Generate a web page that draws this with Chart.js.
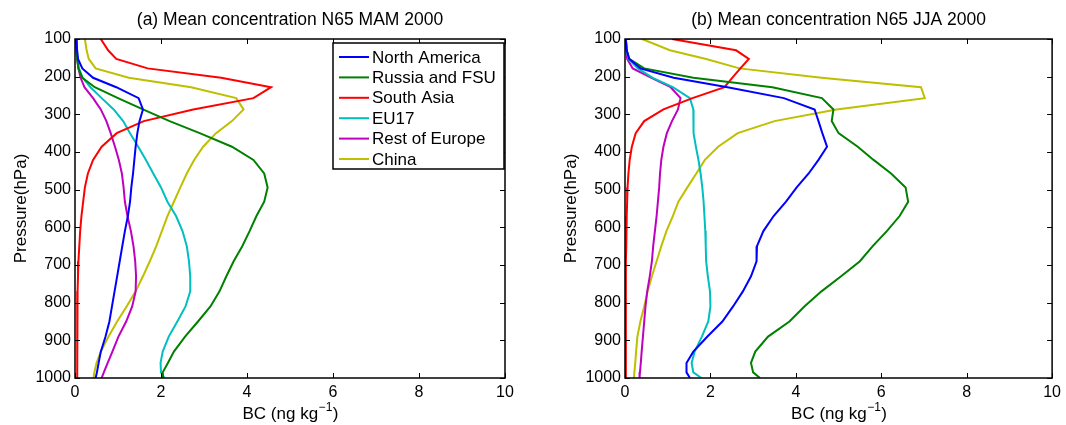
<!DOCTYPE html>
<html>
<head>
<meta charset="utf-8">
<script src="https://cdn.jsdelivr.net/npm/chart.js@4/dist/chart.umd.min.js"></script>
<style>
  html, body { margin: 0; padding: 0; background: #fff; }
  #wrap { display: flex; width: 1066px; height: 425px; }
  .panel { width: 533px; height: 425px; }
  canvas { display: block; }
</style>
</head>
<body>
<div id="wrap">
  <div class="panel"><canvas id="mam" width="533" height="425"></canvas></div>
  <div class="panel"><canvas id="jja" width="533" height="425"></canvas></div>
</div>
<script>
// Model pressure levels (hPa), top of profile to surface
const pressureLevels = [100, 130, 153, 178, 203, 228, 257, 287, 318, 350, 386, 421, 457, 494,
                        532, 570, 610, 650, 690, 730, 770, 810, 850, 890, 930, 960, 985, 1000];

const regionNames  = ['North America', 'Russia and FSU', 'South Asia', 'EU17', 'Rest of Europe', 'China'];
const regionColors = ['#0000ff', '#008000', '#ff0000', '#00bfbf', '#bf00bf', '#bfbf00'];

const xTickValues = [0, 2, 4, 6, 8, 10];
const yTickValues = [100, 200, 300, 400, 500, 600, 700, 800, 900, 1000];

// BC concentration (ng/kg), spring (MAM 2000), north of 65N
const mamNorthAmerica = [0.03, 0.05, 0.07, 0.17, 0.42, 0.96, 1.48, 1.58, 1.50, 1.45, 1.41, 1.38, 1.35, 1.31,
                         1.28, 1.23, 1.16, 1.10, 1.04, 0.98, 0.92, 0.86, 0.80, 0.71, 0.60, 0.55, 0.51, 0.48];
const mamRussiaFSU    = [0.03, 0.04, 0.05, 0.08, 0.17, 0.46, 1.00, 1.58, 2.20, 2.90, 3.65, 4.15, 4.40, 4.48,
                         4.40, 4.22, 4.06, 3.89, 3.69, 3.52, 3.36, 3.15, 2.86, 2.56, 2.30, 2.16, 2.04, 2.05];
const mamSouthAsia    = [0.60, 0.77, 0.96, 1.69, 3.40, 4.56, 4.15, 2.75, 1.60, 0.97, 0.62, 0.42, 0.30, 0.23,
                         0.19, 0.15, 0.12, 0.10, 0.08, 0.07, 0.06, 0.06, 0.05, 0.05, 0.05, 0.05, 0.05, 0.05];
const mamEU17         = [0.03, 0.04, 0.06, 0.09, 0.18, 0.36, 0.62, 0.90, 1.12, 1.28, 1.47, 1.65, 1.82, 2.00,
                         2.15, 2.35, 2.50, 2.60, 2.65, 2.68, 2.68, 2.57, 2.38, 2.18, 2.04, 1.99, 2.00, 2.08];
const mamRestEurope   = [0.02, 0.03, 0.05, 0.08, 0.13, 0.22, 0.42, 0.60, 0.73, 0.83, 0.93, 1.02, 1.09, 1.13,
                         1.16, 1.22, 1.30, 1.36, 1.40, 1.42, 1.41, 1.33, 1.19, 1.01, 0.87, 0.76, 0.67, 0.62];
const mamChina        = [0.23, 0.27, 0.32, 0.48, 1.25, 2.70, 3.75, 3.92, 3.65, 3.28, 2.98, 2.77, 2.60, 2.45,
                         2.30, 2.15, 2.02, 1.89, 1.74, 1.58, 1.41, 1.20, 0.98, 0.78, 0.60, 0.50, 0.45, 0.43];

// BC concentration (ng/kg), summer (JJA 2000), north of 65N
const jjaNorthAmerica = [0.02, 0.04, 0.10, 0.36, 1.14, 2.40, 3.72, 4.44, 4.53, 4.62, 4.73, 4.53, 4.30, 4.02,
                         3.77, 3.48, 3.24, 3.09, 3.08, 2.95, 2.76, 2.53, 2.28, 1.93, 1.60, 1.44, 1.44, 1.52];
const jjaRussiaFSU    = [0.02, 0.04, 0.10, 0.45, 1.60, 3.45, 4.61, 4.88, 4.84, 5.00, 5.45, 5.82, 6.23, 6.57,
                         6.63, 6.43, 6.13, 5.80, 5.50, 5.06, 4.60, 4.20, 3.85, 3.35, 3.05, 2.95, 3.00, 3.16];
const jjaSouthAsia    = [1.10, 2.60, 2.90, 2.70, 2.51, 2.33, 1.58, 0.90, 0.45, 0.25, 0.16, 0.11, 0.08, 0.06,
                         0.05, 0.04, 0.03, 0.03, 0.02, 0.02, 0.02, 0.02, 0.02, 0.02, 0.02, 0.02, 0.02, 0.02];
const jjaEU17         = [0.02, 0.04, 0.08, 0.30, 0.65, 1.12, 1.52, 1.60, 1.60, 1.61, 1.66, 1.72, 1.77, 1.81,
                         1.84, 1.86, 1.88, 1.89, 1.90, 1.94, 1.99, 2.00, 1.95, 1.80, 1.63, 1.56, 1.60, 1.79];
const jjaRestEurope   = [0.02, 0.03, 0.05, 0.18, 0.62, 1.07, 1.30, 1.24, 1.10, 0.98, 0.90, 0.85, 0.82, 0.80,
                         0.77, 0.74, 0.70, 0.66, 0.63, 0.58, 0.52, 0.48, 0.45, 0.42, 0.39, 0.37, 0.35, 0.34];
const jjaChina        = [0.40, 1.05, 1.90, 2.68, 4.60, 6.93, 7.02, 4.95, 3.50, 2.64, 2.18, 1.87, 1.67, 1.46,
                         1.25, 1.12, 0.97, 0.85, 0.74, 0.63, 0.53, 0.45, 0.36, 0.29, 0.26, 0.24, 0.22, 0.21];

const FONT = '"Liberation Sans", Arial, Helvetica, sans-serif';

// Frame, inward ticks on all sides, titles and the optional in-axes legend
const panelDecor = {
  id: 'panelDecor',
  afterDatasetsDraw(chart, args, opts) {
    const { ctx, chartArea: a, scales: { x, y } } = chart;
    ctx.save();
    ctx.strokeStyle = '#000';
    ctx.lineWidth = 1;
    const tl = 5;
    ctx.beginPath();
    x.ticks.forEach(t => {
      const px = Math.round(x.getPixelForValue(t.value)) + 0.5;
      ctx.moveTo(px, a.bottom); ctx.lineTo(px, a.bottom - tl);
      ctx.moveTo(px, a.top);    ctx.lineTo(px, a.top + tl);
    });
    y.ticks.forEach(t => {
      const py = Math.round(y.getPixelForValue(t.value)) + 0.5;
      ctx.moveTo(a.left, py);  ctx.lineTo(a.left + tl, py);
      ctx.moveTo(a.right, py); ctx.lineTo(a.right - tl, py);
    });
    ctx.stroke();
    ctx.lineWidth = 1.5;
    ctx.strokeRect(a.left, a.top, a.right - a.left, a.bottom - a.top);

    if (opts.legend) {
      const lx = 333, ly = 43, lw = 171, lh = 126;
      ctx.fillStyle = '#fff';
      ctx.fillRect(lx, ly, lw, lh);
      ctx.lineWidth = 1.5;
      ctx.strokeStyle = '#000';
      ctx.strokeRect(lx, ly, lw, lh);
      ctx.font = `17px ${FONT}`;
      ctx.textAlign = 'left';
      ctx.textBaseline = 'middle';
      chart.data.datasets.forEach((ds, i) => {
        const cy = ly + 14 + i * 20.4;
        ctx.strokeStyle = ds.borderColor;
        ctx.lineWidth = 2;
        ctx.beginPath();
        ctx.moveTo(lx + 6, cy); ctx.lineTo(lx + 36, cy);
        ctx.stroke();
        ctx.fillStyle = '#000';
        ctx.fillText(ds.label, lx + 39, cy + 1);
      });
    }
    ctx.restore();
  },
  afterDraw(chart, args, opts) {
    const { ctx, chartArea: a } = chart;
    const cx = (a.left + a.right) / 2;
    ctx.save();
    ctx.fillStyle = '#000';
    // panel title
    ctx.font = `17.5px ${FONT}`;
    ctx.textAlign = 'center';
    ctx.textBaseline = 'middle';
    ctx.fillText(opts.title, cx, 20);
    // y axis title
    ctx.save();
    ctx.translate(a.left - 54, (a.top + a.bottom) / 2);
    ctx.rotate(-Math.PI / 2);
    ctx.font = `17px ${FONT}`;
    ctx.fillText('Pressure(hPa)', 0, 0);
    ctx.restore();
    // x axis title with superscript unit exponent
    const main = 'BC (ng kg', sup = '\u22121', close = ')';
    ctx.font = `17px ${FONT}`;
    const w1 = ctx.measureText(main).width, w3 = ctx.measureText(close).width;
    ctx.font = `12px ${FONT}`;
    const w2 = ctx.measureText(sup).width;
    const x0 = cx - (w1 + w2 + w3) / 2, base = 419;
    ctx.textAlign = 'left';
    ctx.textBaseline = 'alphabetic';
    ctx.font = `17px ${FONT}`;
    ctx.fillText(main, x0, base);
    ctx.font = `12px ${FONT}`;
    ctx.fillText(sup, x0 + w1 + 0.5, base - 8);
    ctx.font = `17px ${FONT}`;
    ctx.fillText(close, x0 + w1 + w2 + 1, base);
    ctx.restore();
  }
};

function buildPanel(canvasId, seriesList, title, showLegend, padLeft, padRight) {
  const datasets = seriesList.map((vals, i) => ({
    label: regionNames[i],
    data: pressureLevels.map((p, k) => ({ x: vals[k], y: p })),
    borderColor: regionColors[i],
    backgroundColor: regionColors[i],
    borderWidth: 2,
    pointRadius: 0,
    showLine: true,
    tension: 0,
    fill: false
  }));
  return new Chart(document.getElementById(canvasId), {
    type: 'scatter',
    data: { datasets },
    plugins: [panelDecor],
    options: {
      responsive: false,
      animation: false,
      devicePixelRatio: 1,
      layout: { padding: { left: padLeft, right: padRight, top: 39, bottom: 0 } },
      plugins: {
        legend: { display: false },
        tooltip: { enabled: false },
        title: { display: false },
        panelDecor: { title, legend: showLegend }
      },
      scales: {
        x: {
          type: 'linear', min: 0, max: 10,
          afterBuildTicks: s => { s.ticks = xTickValues.map(v => ({ value: v })); },
          afterFit: s => { s.height = 47; },
          grid: { display: false, drawTicks: false },
          border: { display: false },
          ticks: { color: '#000', font: { family: FONT, size: 16 }, padding: 5, maxRotation: 0,
                   callback: v => String(v) }
        },
        y: {
          type: 'linear', min: 100, max: 1000, reverse: true,
          afterBuildTicks: s => { s.ticks = yTickValues.map(v => ({ value: v })); },
          afterFit: s => { s.width = 60; },
          grid: { display: false, drawTicks: false },
          border: { display: false },
          ticks: { color: '#000', font: { family: FONT, size: 16 }, padding: 4,
                   callback: v => String(v) }
        }
      }
    }
  });
}

buildPanel('mam',
  [mamNorthAmerica, mamRussiaFSU, mamSouthAsia, mamEU17, mamRestEurope, mamChina],
  '(a) Mean concentration N65 MAM 2000', true, 15, 28);
buildPanel('jja',
  [jjaNorthAmerica, jjaRussiaFSU, jjaSouthAsia, jjaEU17, jjaRestEurope, jjaChina],
  '(b) Mean concentration N65 JJA 2000', false, 32, 11);
</script>
</body>
</html>
